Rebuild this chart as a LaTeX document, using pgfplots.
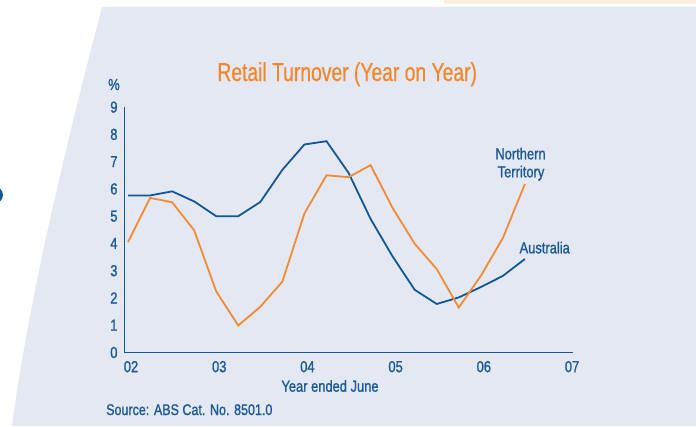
\documentclass[border=0pt]{standalone}
\usepackage{pgfplots}
\pgfplotsset{compat=1.18}
\usepackage{fontspec}
\setmainfont{Liberation Sans}[FakeBold=1.4]
\newfontfamily\ttlfont{Liberation Sans}[FakeBold=0.6]
\definecolor{panel}{HTML}{E4E8F2}
\definecolor{peach}{HTML}{FDEEE2}
\definecolor{txtblue}{HTML}{1C5B9B}
\definecolor{lnblue}{HTML}{135797}
\definecolor{lnorange}{HTML}{F28B33}
\definecolor{ttlorange}{HTML}{F5862B}
\newcommand\cz[1]{\scalebox{0.81}[1]{#1}}
\newcommand\tf{\fontsize{16}{18}\selectfont}
\newcommand\lf{\fontsize{16}{18}\selectfont}
\begin{document}
\begin{tikzpicture}[x=1bp,y=1bp]
\path[use as bounding box] (0,0) rectangle (696,426);
\clip (0,0) rectangle (696,426);
\fill[panel] (102,419) .. controls (70,296) and (30,136) .. (12,0) -- (696,0) -- (696,419) -- cycle;
\fill[peach] (444,422) rectangle (696,426);
\fill[lnblue] (-5,231) circle (8);
\begin{axis}[
  at={(124.5bp,73.5bp)}, anchor=south west,
  scale only axis, width=448.5bp, height=245.4bp,
  xmin=2001.96, xmax=2007.045, ymin=0, ymax=9,
  axis x line=bottom, axis y line=left,
  axis line style={-, line width=1.6bp, color=lnblue},
  xtick={2002,2003,2004,2005,2006,2007},
  xticklabels={\cz{02},\cz{03},\cz{04},\cz{05},\cz{06},\cz{07}},
  ytick={0,1,2,3,4,5,6,7,8,9},
  yticklabels={\cz{0},\cz{1},\cz{2},\cz{3},\cz{4},\cz{5},\cz{6},\cz{7},\cz{8},\cz{9}},
  major tick length=0pt,
  tick label style={font=\tf, text=txtblue},
  xticklabel style={yshift=-5bp, xshift=3bp},
  yticklabel style={xshift=-3.5bp},
  clip=false,
]
\addplot[lnblue, line width=1.8bp] coordinates {
(2002.00,5.76) (2002.25,5.76) (2002.50,5.91) (2002.75,5.54) (2003.00,5.00)
(2003.25,5.00) (2003.50,5.52) (2003.75,6.70) (2004.00,7.63) (2004.25,7.75)
(2004.50,6.59) (2004.75,4.90) (2005.00,3.52) (2005.25,2.30) (2005.50,1.78)
(2005.75,2.02) (2006.00,2.40) (2006.25,2.81) (2006.50,3.43)};
\addplot[lnorange, line width=1.8bp] coordinates {
(2002.00,4.05) (2002.25,5.67) (2002.50,5.51) (2002.75,4.48) (2003.00,2.24)
(2003.25,0.99) (2003.50,1.68) (2003.75,2.60) (2004.00,5.10) (2004.25,6.50)
(2004.50,6.43) (2004.75,6.87) (2005.00,5.30) (2005.25,3.99) (2005.50,3.06)
(2005.75,1.65) (2006.00,2.81) (2006.25,4.20) (2006.50,6.18)};
\end{axis}
\node[anchor=base, inner sep=0, text=ttlorange, font=\ttlfont\fontsize{26}{30}\selectfont] at (347.2,345) {\scalebox{0.745}[1]{Retail Turnover (Year on Year)}};
\node[anchor=base, inner sep=0, text=txtblue, font=\tf] at (114,336) {\cz{\%}};
\node[anchor=base, inner sep=0, text=txtblue, font=\lf] at (330,34.3) {\cz{Year ended June}};
\node[anchor=base west, inner sep=0, text=txtblue, font=\fontsize{15.5}{18}\selectfont] at (106,11) {\cz{Source: ABS Cat. No. 8501.0}};
\node[anchor=base, inner sep=0, text=txtblue, font=\lf] at (520.5,266.7) {\cz{Northern}};
\node[anchor=base, inner sep=0, text=txtblue, font=\lf] at (521,248.7) {\cz{Territory}};
\node[anchor=base, inner sep=0, text=txtblue, font=\lf] at (544.7,172.7) {\cz{Australia}};
\end{tikzpicture}
\end{document}
